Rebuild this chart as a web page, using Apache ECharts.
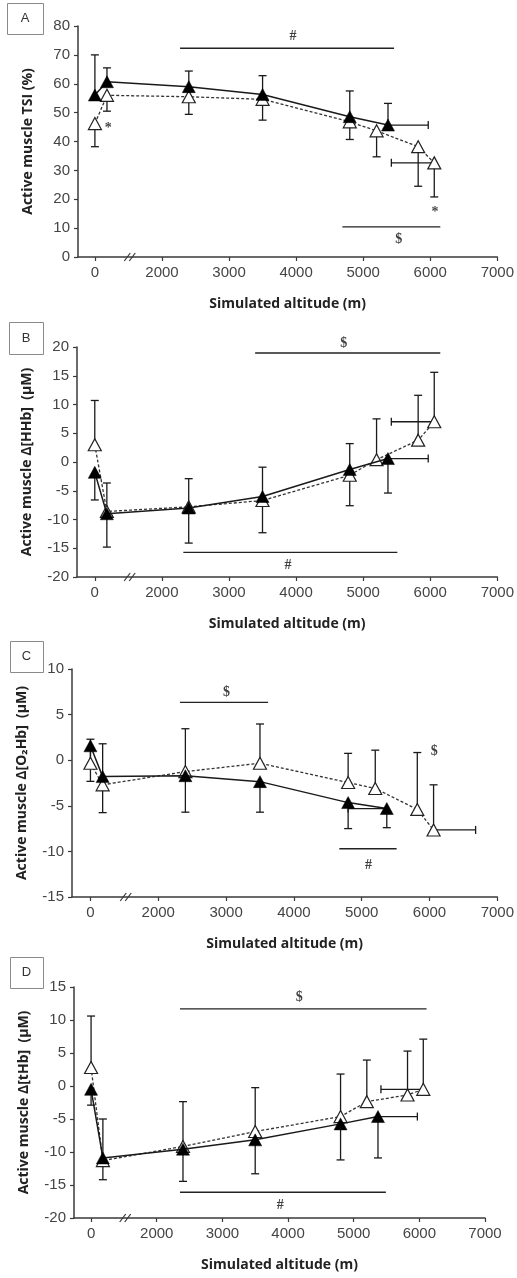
<!DOCTYPE html>
<html>
<head>
<meta charset="utf-8">
<script src="https://cdn.jsdelivr.net/npm/echarts@6/dist/echarts.min.js"></script>
<style>
  html, body { margin: 0; padding: 0; background: #fff; }
  #chart { width: 517px; height: 1278px; }
</style>
</head>
<body>
<div id="chart"></div>
<script>
// ---------------- DATA ----------------
// Simulated altitudes (m). Values below 1000 m sit left of the axis break.
const altFilled = [0, 180, 2400, 3500, 4800, 5370];
const altOpen   = [0, 180, 2400, 3500, 4800, 5200, 5820, 6060];

// x tick values (m) and labels
const xTickValues = [0, 2000, 3000, 4000, 5000, 6000, 7000];

// Panel A: Active muscle TSI (%)
const tsiFilled    = [56.1, 60.7, 59.0, 56.3, 48.6, 45.7];
const tsiFilledErr = [13.9, 4.8, 5.4, 6.5, 8.9, 7.5];            // signed (+ up)
const tsiOpen      = [46.2, 56.0, 55.5, 54.6, 46.8, 43.7, 38.2, 32.6];
const tsiOpenErr   = [-8.0, -5.5, -6.1, -7.2, -6.1, -9.0, -13.7, -11.8];
const tsiFilledXErr = 600;   // horizontal error of last filled point (m, signed)
const tsiOpenXErr   = -640;  // horizontal error of last open point

// Panel B: Active muscle Δ[HHb] (μM)
const hhbFilled    = [-1.8, -9.0, -8.0, -6.0, -1.3, 0.6];
const hhbFilledErr = [-4.8, -5.8, -6.1, -6.3, -6.3, -6.0];
const hhbOpen      = [3.0, -8.6, -7.8, -6.7, -2.3, 0.4, 3.8, 7.0];
const hhbOpenErr   = [7.7, 4.95, 4.9, 5.8, 5.5, 7.1, 7.8, 8.6];
const hhbFilledXErr = 600;
const hhbOpenXErr   = -640;

// Panel C: Active muscle Δ[O2Hb] (μM)
const o2hbFilled    = [1.58, -1.8, -1.7, -2.35, -4.65, -5.3];
const o2hbFilledErr = [-3.9, -3.95, -4.0, -3.35, -2.85, -2.1];
const o2hbOpen      = [-0.33, -2.7, -1.25, -0.33, -2.45, -3.1, -5.4, -7.65];
const o2hbOpenErr   = [2.63, 4.5, 4.7, 4.3, 3.2, 4.2, 6.24, 4.95];
const o2hbFilledXErr = -570;
const o2hbOpenXErr   = 620;

// Panel D: Active muscle Δ[tHb] (μM)
const thbFilled    = [-0.5, -10.9, -9.57, -8.16, -5.74, -4.63];
const thbFilledErr = [-2.4, -3.3, -4.88, -5.14, -5.46, -6.27];
const thbOpen      = [2.8, -11.3, -9.16, -6.9, -4.63, -2.37, -1.36, -0.5];
const thbOpenErr   = [7.8, 6.3, 6.79, 6.65, 6.44, 6.3, 6.65, 7.6];
const thbFilledXErr = 600;
const thbOpenXErr   = -645;

// Significance annotations: bars [xStart, xEnd, y], marks [x, y, symbol]
const tsiBars  = [[2270, 5460, 72.3], [4690, 6150, 10.4]];
const tsiMarks = [[3955, 76.3, '#'], [5530, 6.0, '$'], [200, 44.5, '*'], [6070, 15.3, '*']];
const hhbBars  = [[3390, 6150, 18.96], [2320, 5510, -15.7]];
const hhbMarks = [[4710, 20.7, '$'], [3880, -17.9, '#']];
const o2hbBars  = [[2320, 3620, 6.34], [4670, 5515, -9.71]];
const o2hbMarks = [[3005, 7.4, '$'], [6070, 0.95, '$'], [5100, -11.5, '#']];
const thbBars  = [[2355, 6110, 11.7], [2355, 5490, -16.1]];
const thbMarks = [[4170, 13.5, '$'], [3880, -18.1, '#']];

// Y axis ranges
const yRanges = [[0, 80, 10], [-20, 20, 5], [-15, 10, 5], [-20, 15, 5]];
const yTitles = ['Active muscle TSI (%)', 'Active muscle \u0394[HHb]  (\u03bcM)',
                 'Active muscle \u0394[O\u2082Hb]  (\u03bcM)', 'Active muscle \u0394[tHb]  (\u03bcM)'];
const panelLetters = ['A', 'B', 'C', 'D'];
const xTitle = 'Simulated altitude (m)';

// ---------------- LAYOUT ----------------
const BREAK_SHIFT = 1000;                 // axis break: 0 m plotted at the "1000" position
const toAxis = a => (a < 1000 ? a + BREAK_SHIFT : a);
const grids = [
  { left: 78, right: 17, top: 26,  height: 231, xmin: 748 },
  { left: 77, right: 17, top: 347, height: 230, xmin: 735 },
  { left: 72, right: 19, top: 669, height: 228, xmin: 728 },
  { left: 74, right: 32, top: 987, height: 231, xmin: 740 }
];
const boxes = [[7, 3, 36, 31], [9, 322, 34, 32], [10, 641, 33, 31], [10, 957, 33, 31]];

const panels = [
  { f: tsiFilled, fe: tsiFilledErr, o: tsiOpen, oe: tsiOpenErr, fx: tsiFilledXErr, ox: tsiOpenXErr, bars: tsiBars, marks: tsiMarks },
  { f: hhbFilled, fe: hhbFilledErr, o: hhbOpen, oe: hhbOpenErr, fx: hhbFilledXErr, ox: hhbOpenXErr, bars: hhbBars, marks: hhbMarks },
  { f: o2hbFilled, fe: o2hbFilledErr, o: o2hbOpen, oe: o2hbOpenErr, fx: o2hbFilledXErr, ox: o2hbOpenXErr, bars: o2hbBars, marks: o2hbMarks },
  { f: thbFilled, fe: thbFilledErr, o: thbOpen, oe: thbOpenErr, fx: thbFilledXErr, ox: thbOpenXErr, bars: thbBars, marks: thbMarks }
];

const INK = '#1a1a1a';
const AXIS = '#3a3a3a';

function vErr(params, api) {
  const x = api.value(0), y = api.value(1), d = api.value(2);
  const p0 = api.coord([x, y]), p1 = api.coord([x, y + d]);
  const st = { stroke: INK, lineWidth: 1.3 };
  return { type: 'group', children: [
    { type: 'line', shape: { x1: p0[0], y1: p0[1], x2: p1[0], y2: p1[1] }, style: st },
    { type: 'line', shape: { x1: p1[0] - 4, y1: p1[1], x2: p1[0] + 4, y2: p1[1] }, style: st }
  ]};
}
function hErr(params, api) {
  const x = api.value(0), y = api.value(1), d = api.value(2);
  const p0 = api.coord([x, y]), p1 = api.coord([x + d, y]);
  const st = { stroke: INK, lineWidth: 1.3 };
  return { type: 'group', children: [
    { type: 'line', shape: { x1: p0[0], y1: p0[1], x2: p1[0], y2: p1[1] }, style: st },
    { type: 'line', shape: { x1: p1[0], y1: p1[1] - 4, x2: p1[0], y2: p1[1] + 4 }, style: st }
  ]};
}

const gridOpt = [], xAxes = [], yAxes = [], series = [];
const tickVals = xTickValues.map(toAxis);

panels.forEach((p, i) => {
  const g = grids[i];
  gridOpt.push({ left: g.left, right: g.right, top: g.top, height: g.height, containLabel: false });
  xAxes.push({
    type: 'value', gridIndex: i, min: g.xmin, max: 7000,
    name: xTitle, nameLocation: 'middle', nameGap: 40,
    nameTextStyle: { fontFamily: 'Open Sans', fontWeight: 'bold', fontSize: 14, color: '#222' },
    axisLine: { onZero: false, lineStyle: { color: AXIS, width: 1.5 } },
    axisTick: { show: true, length: 4, inside: false, customValues: tickVals, lineStyle: { color: AXIS, width: 1.2 } },
    axisLabel: { customValues: tickVals, margin: 8, fontFamily: 'Liberation Sans', fontSize: 15, color: '#444',
                 formatter: v => String(v === BREAK_SHIFT ? 0 : v) },
    splitLine: { show: false }
  });
  const yr = yRanges[i];
  yAxes.push({
    type: 'value', gridIndex: i, min: yr[0], max: yr[1], interval: yr[2],
    name: yTitles[i], nameLocation: 'middle', nameGap: 43, nameRotate: 90,
    nameTextStyle: { fontFamily: 'Open Sans', fontWeight: 'bold', fontSize: 14, color: '#222' },
    axisLine: { show: true, onZero: false, lineStyle: { color: AXIS, width: 1.5 } },
    axisTick: { show: true, length: 4, lineStyle: { color: AXIS, width: 1.2 } },
    axisLabel: { margin: 8, fontFamily: 'Liberation Sans', fontSize: 15, color: '#444' },
    splitLine: { show: false }
  });

  const fx = altFilled.map(toAxis), ox = altOpen.map(toAxis);
  // error bars
  series.push({
    type: 'custom', xAxisIndex: i, yAxisIndex: i, renderItem: vErr, z: 1, silent: true, clip: false,
    encode: { x: 0, y: 1 },
    data: fx.map((x, k) => [x, p.f[k], p.fe[k]]).concat(ox.map((x, k) => [x, p.o[k], p.oe[k]]))
  });
  series.push({
    type: 'custom', xAxisIndex: i, yAxisIndex: i, renderItem: hErr, z: 1, silent: true, clip: false,
    encode: { x: 0, y: 1 },
    data: [[fx[fx.length - 1], p.f[p.f.length - 1], p.fx], [ox[ox.length - 1], p.o[p.o.length - 1], p.ox]]
  });
  // filled triangles, solid line
  series.push({
    type: 'line', xAxisIndex: i, yAxisIndex: i, z: 3,
    data: fx.map((x, k) => [x, p.f[k]]),
    symbol: 'triangle', symbolSize: [13, 12], showAllSymbol: true,
    lineStyle: { color: INK, width: 1.5 },
    itemStyle: { color: '#000', borderColor: '#000', borderWidth: 0.5 }
  });
  // open triangles, dashed line
  series.push({
    type: 'line', xAxisIndex: i, yAxisIndex: i, z: 2,
    data: ox.map((x, k) => [x, p.o[k]]),
    symbol: 'triangle', symbolSize: [13, 12], showAllSymbol: true,
    lineStyle: { color: '#333', width: 1.3, type: [3, 2] },
    itemStyle: { color: '#fff', borderColor: '#222', borderWidth: 1.2 }
  });
  // significance bars
  p.bars.forEach(b => {
    series.push({
      type: 'line', xAxisIndex: i, yAxisIndex: i, z: 1, symbol: 'none', silent: true, clip: false,
      data: [[toAxis(b[0]), b[2]], [toAxis(b[1]), b[2]]],
      lineStyle: { color: '#222', width: 1.3 }
    });
  });
  // significance symbols
  series.push({
    type: 'scatter', xAxisIndex: i, yAxisIndex: i, z: 4, symbolSize: 0, silent: true, clip: false,
    data: p.marks.map(m => ({ value: [toAxis(m[0]), m[1]], txt: m[2] })),
    label: {
      show: true, position: 'inside', color: '#111',
      fontFamily: 'Liberation Serif', fontWeight: 'bold', fontSize: 14,
      formatter: prm => prm.data.txt
    }
  });
});

const chart = echarts.init(document.getElementById('chart'), null, { renderer: 'canvas' });
chart.setOption({
  animation: false,
  backgroundColor: '#fff',
  grid: gridOpt, xAxis: xAxes, yAxis: yAxes, series: series
});

// panel letter boxes and axis-break marks
const graphics = [];
boxes.forEach((b, i) => {
  graphics.push({ type: 'rect', shape: { x: b[0] + 0.5, y: b[1] + 0.5, width: b[2], height: b[3] },
                  style: { fill: '#fff', stroke: '#8a8a8a', lineWidth: 1 } });
  graphics.push({ type: 'text', x: b[0] + b[2] / 2, y: b[1] + b[3] / 2,
                  style: { text: panelLetters[i], fontFamily: 'Liberation Sans', fontSize: 13, fill: '#333',
                           align: 'center', verticalAlign: 'middle' } });
});
panels.forEach((p, i) => {
  const pt = chart.convertToPixel({ xAxisIndex: i, yAxisIndex: i }, [1520, yRanges[i][0]]);
  [-2.5, 2.5].forEach(dx => {
    graphics.push({ type: 'line', z: 10,
      shape: { x1: pt[0] + dx - 3, y1: pt[1] + 4, x2: pt[0] + dx + 3, y2: pt[1] - 4 },
      style: { stroke: '#333', lineWidth: 1.2 } });
  });
});
chart.setOption({ graphic: graphics });
</script>
</body>
</html>
